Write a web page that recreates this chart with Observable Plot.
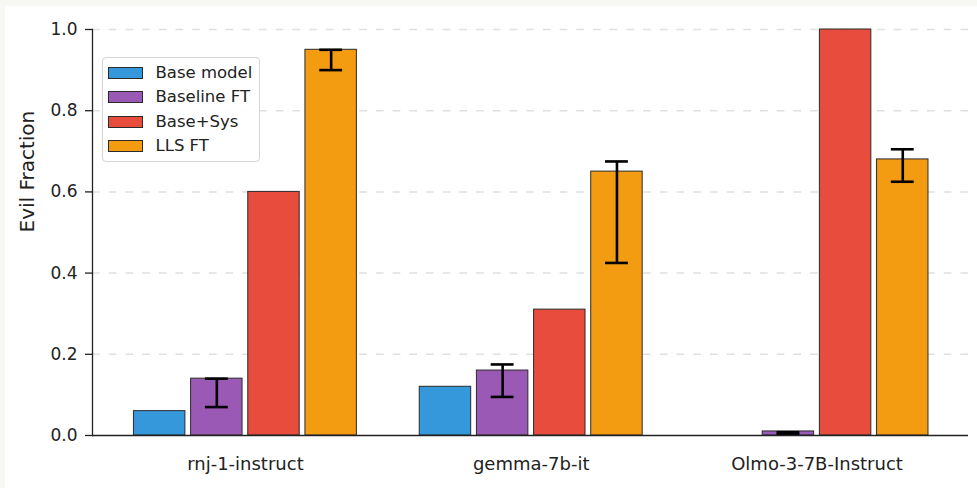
<!DOCTYPE html>
<html><head><meta charset="utf-8">
<script src="https://cdn.jsdelivr.net/npm/d3@7"></script>
<script src="https://cdn.jsdelivr.net/npm/@observablehq/plot@0.6"></script>
<style>
html,body{margin:0;padding:0;background:#f7f7f4;}
#wrap{position:relative;width:977px;height:488px;overflow:hidden;background:#f7f7f4;font-family:"DejaVu Sans",sans-serif;}
#chart{position:absolute;left:5px;top:6px;width:972px;height:482px;background:#fff;}
#chart svg{display:block;}
#legend{position:absolute;left:101.5px;top:57px;width:158px;height:105px;box-sizing:border-box;border:1px solid #d4d4d4;border-radius:4px;background:rgba(255,255,255,0.9);}
.lg-sw{position:absolute;left:5px;width:33px;height:10px;border:1px solid #2b2b2b;}
.lg-tx{position:absolute;left:53px;font-size:16.5px;line-height:20px;color:#222;white-space:nowrap;}
</style></head><body>
<div id="wrap"><div id="chart"></div><div id="legend"></div></div>
<script>
const groups = ["rnj-1-instruct", "gemma-7b-it", "Olmo-3-7B-Instruct"];
const seriesNames = ["Base model", "Baseline FT", "Base+Sys", "LLS FT"];
const seriesColors = ["#3498db", "#9b59b6", "#e74c3c", "#f39c12"];

const baseModel  = [0.06, 0.12, 0.00];
const baselineFT = [0.14, 0.16, 0.01];
const baseSys    = [0.60, 0.31, 1.00];
const llsFT      = [0.95, 0.65, 0.68];

const baselineFTLow  = [0.07, 0.095, 0.003];
const baselineFTHigh = [0.14, 0.175, 0.008];
const llsFTLow       = [0.90, 0.425, 0.625];
const llsFTHigh      = [0.95, 0.675, 0.705];

const yTicks = [0.0, 0.2, 0.4, 0.6, 0.8, 1.0];
const gridTicks = [0.2, 0.4, 0.6, 0.8, 1.0];
const yLabel = "Evil Fraction";

// grouped-bar layout (like matplotlib: group index + series offset)
const barWidth = 0.18, barStep = 0.2, capHalf = 0.04;
const seriesValues = [baseModel, baselineFT, baseSys, llsFT];
const offset = si => (si - (seriesNames.length - 1) / 2) * barStep;

const rows = [];
groups.forEach((g, gi) => seriesNames.forEach((s, si) => {
  const c = gi + offset(si);
  rows.push({group: g, series: s, value: seriesValues[si][gi], x1: c - barWidth / 2, x2: c + barWidth / 2});
}));
const errRows = [];
groups.forEach((g, gi) => {
  [["Baseline FT", baselineFTLow, baselineFTHigh], ["LLS FT", llsFTLow, llsFTHigh]].forEach(([s, lo, hi]) => {
    const c = gi + offset(seriesNames.indexOf(s));
    errRows.push({group: g, series: s, xc: c, cx1: c - capHalf, cx2: c + capHalf, lo: lo[gi], hi: hi[gi]});
  });
});
const groupTicks = groups.map((_, i) => i);

const plot = Plot.plot({
  width: 972, height: 482,
  marginLeft: 87, marginRight: 9, marginTop: 23, marginBottom: 53,
  style: {fontFamily: "DejaVu Sans", fontSize: "17px", color: "#222", background: "transparent", overflow: "visible"},
  x: {domain: [-0.535, 2.53]},
  y: {domain: [0, 1]},
  color: {domain: seriesNames, range: seriesColors},
  marks: [
    Plot.ruleY(gridTicks, {y: d => d, stroke: "#e0e0e0", strokeWidth: 1.5, strokeDasharray: "7.7,9"}),
    Plot.rectY(rows, {x1: "x1", x2: "x2", y1: 0, y2: "value", fill: "series", stroke: "#2b2b2b", strokeWidth: 1}),
    Plot.ruleX(errRows, {x: "xc", y1: "lo", y2: "hi", stroke: "#000", strokeWidth: 2.6}),
    Plot.ruleY(errRows, {x1: "cx1", x2: "cx2", y: "lo", stroke: "#000", strokeWidth: 2.6}),
    Plot.ruleY(errRows, {x1: "cx1", x2: "cx2", y: "hi", stroke: "#000", strokeWidth: 2.6}),
    Plot.ruleY([0], {stroke: "#222", strokeWidth: 1.3}),
    Plot.frame({anchor: "left", stroke: "#222", strokeWidth: 1.3}),
    Plot.axisY(yTicks, {tickFormat: d3.format(".1f"), tickSize: 7, tickPadding: 8, fontSize: 17, stroke: "#222", strokeWidth: 1.3, label: null}),
    Plot.text([yLabel], {frameAnchor: "left", text: d => d, rotate: -90, dx: -64.5, fontSize: 20, fill: "#222"}),
    Plot.axisX(groupTicks, {tickFormat: i => groups[i], tickSize: 0, tickPadding: 22, fontSize: 18, label: null})
  ]
});
document.getElementById("chart").appendChild(plot);

const legend = document.getElementById("legend");
seriesNames.forEach((s, i) => {
  const cy = 14.5 + 24.5 * i;
  const sw = document.createElement("div");
  sw.className = "lg-sw";
  sw.style.top = (cy - 6) + "px";
  sw.style.background = seriesColors[i];
  legend.appendChild(sw);
  const tx = document.createElement("div");
  tx.className = "lg-tx";
  tx.style.top = (cy - 10) + "px";
  tx.textContent = s;
  legend.appendChild(tx);
});
</script>
</body></html>
